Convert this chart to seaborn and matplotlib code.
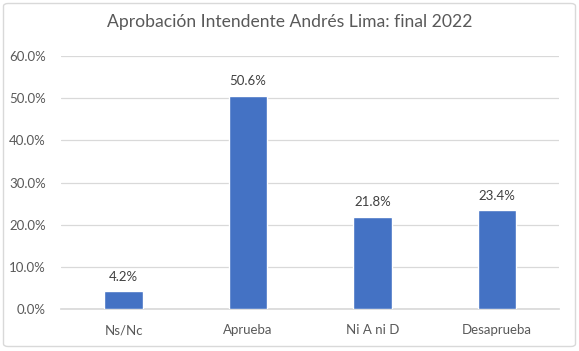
import matplotlib
matplotlib.use("Agg")
import matplotlib.pyplot as plt
import seaborn as sns
import pandas as pd
from matplotlib.patches import FancyBboxPatch

categories = ["Ns/Nc", "Aprueba", "Ni A ni D", "Desaprueba"]
values = [4.2, 50.6, 21.8, 23.4]
yticks = [0, 10, 20, 30, 40, 50, 60]
title = "Aprobación Intendente Andrés Lima: final 2022"

sns.set_theme(style="white")
plt.rcParams['font.family'] = ['Lato', 'DejaVu Sans']

df = pd.DataFrame({"cat": categories, "val": values})
fig = plt.figure(figsize=(5.79, 3.51), dpi=100)
left, right = 61.3 / 579, 559 / 579
bottom, top = 1 - 309 / 351, 1 - 56 / 351
ax = fig.add_axes([left, bottom, right - left, top - bottom])

sns.barplot(data=df, x="cat", y="val", color="#4472C4", saturation=1,
            width=0.31, ax=ax, zorder=3)
ax.set_ylim(0, 60)
ax.set_yticks(yticks)
ax.set_yticklabels([f"{t:.1f}%" for t in yticks], color="#595959", fontsize=9.5)
ax.set_xticklabels(categories, color="#595959", fontsize=9.5)
ax.tick_params(axis='x', length=0, pad=11)
ax.tick_params(axis='y', length=0, pad=11)
ax.grid(axis='y', color="#D9D9D9", linewidth=0.9, zorder=0)
for s in ["top", "right", "left"]:
    ax.spines[s].set_visible(False)
ax.spines["bottom"].set_color("#D9D9D9")
ax.set_xlabel("")
ax.set_ylabel("")
ax.set_xlim(-0.5, 3.5)

for i, v in enumerate(values):
    ax.text(i, v + 3.5, f"{v:.1f}%", ha="center", va="center",
            color="#404040", fontsize=9.5)

fig.text(0.5, 1 - 22 / 351, title, ha="center", va="center",
         color="#595959", fontsize=12.6)

border = FancyBboxPatch((3.5 / 579, 4.5 / 351), 1 - 7 / 579, 1 - 8 / 351,
                        boxstyle="round,pad=0,rounding_size=0.008",
                        transform=fig.transFigure, fill=False,
                        edgecolor="#D9D9D9", linewidth=1)
fig.patches.append(border)

fig.savefig("out.png", dpi=100)
